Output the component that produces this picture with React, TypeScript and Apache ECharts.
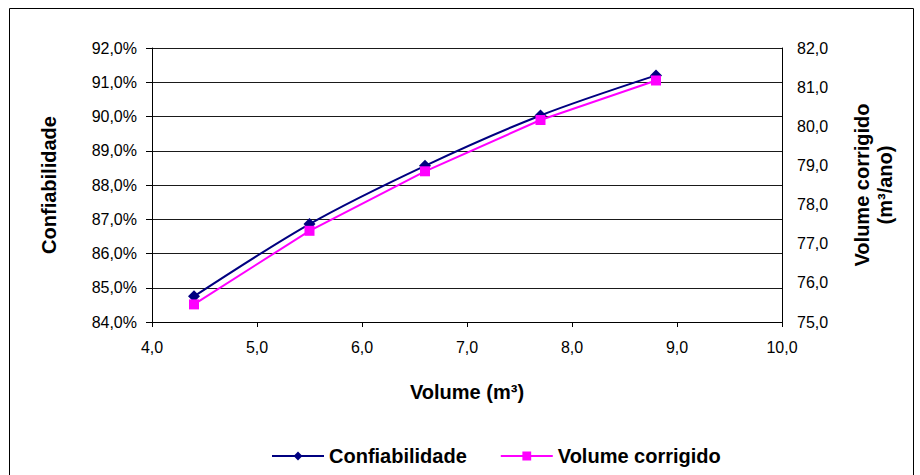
import React, { useEffect, useRef } from "react";
import * as echarts from "echarts";

const volumes = [4.4, 5.5, 6.6, 7.7, 8.8];
const confiabilidade = [84.75, 86.86, 88.56, 90.03, 91.2];
const volumeCorrigido = [75.45, 77.33, 78.85, 80.16, 81.17];

const FONT = 'Arial, "Liberation Sans", sans-serif';
const fmt1 = (v: number) => v.toFixed(1).replace(".", ",");
const TICK_SIZE = 16;
const TITLE_SIZE = 20;

export default function App() {
  const ref = useRef<HTMLDivElement>(null);
  useEffect(() => {
    document.body.style.margin = "0";
    const chart = echarts.init(ref.current!, null, { renderer: "svg" });
    chart.setOption({
      animation: false,
      backgroundColor: "#ffffff",
      textStyle: { fontFamily: FONT },
      graphic: [
        {
          type: "rect",
          shape: { x: 9.5, y: 8.5, width: 904, height: 480 },
          style: { fill: "none", stroke: "#000", lineWidth: 1 },
          silent: true,
        },
      ],
      grid: { left: 152, right: 138, top: 48, bottom: 153 },
      legend: {
        bottom: 4,
        left: 266,
        itemWidth: 52,
        itemHeight: 11,
        itemGap: 33,
        textStyle: { fontFamily: FONT, fontSize: TITLE_SIZE, fontWeight: "bold", color: "#000" },
        data: ["Confiabilidade", "Volume corrigido"],
      },
      xAxis: {
        type: "value",
        min: 4,
        max: 10,
        interval: 1,
        name: "Volume (m³)",
        nameLocation: "middle",
        nameGap: 60,
        nameTextStyle: { fontFamily: FONT, fontSize: TITLE_SIZE, fontWeight: "bold", color: "#000" },
        axisLine: { show: true, lineStyle: { color: "#000" } },
        axisTick: { show: true, inside: false, length: 5, lineStyle: { color: "#000" } },
        axisLabel: { formatter: (v: number) => fmt1(v), fontFamily: FONT, fontSize: TICK_SIZE, color: "#000", margin: 17 },
        splitLine: { show: false },
      },
      yAxis: [
        {
          type: "value",
          min: 84,
          max: 92,
          interval: 1,
          position: "left",
          name: "Confiabilidade",
          nameLocation: "middle",
          nameRotate: 90,
          nameGap: 93,
          nameTextStyle: { fontFamily: FONT, fontSize: TITLE_SIZE, fontWeight: "bold", color: "#000" },
          axisLine: { show: true, lineStyle: { color: "#000" } },
          axisTick: { show: true, inside: false, length: 6, lineStyle: { color: "#000" } },
          axisLabel: { formatter: (v: number) => fmt1(v) + "%", fontFamily: FONT, fontSize: TICK_SIZE, color: "#000", margin: 15 },
          splitLine: { show: true, lineStyle: { color: "#1a1a1a", width: 1 } },
        },
        {
          type: "value",
          min: 75,
          max: 82,
          interval: 1,
          position: "right",
          name: "Volume corrigido\n(m³/ano)",
          nameLocation: "middle",
          nameRotate: 90,
          nameGap: 68,
          nameTextStyle: { fontFamily: FONT, fontSize: TITLE_SIZE, fontWeight: "bold", color: "#000", lineHeight: 23 },
          axisLine: { show: true, lineStyle: { color: "#000" } },
          axisTick: { show: false },
          axisLabel: { formatter: (v: number) => fmt1(v), fontFamily: FONT, fontSize: TICK_SIZE, color: "#000", margin: 15 },
          splitLine: { show: false },
        },
      ],
      series: [
        {
          name: "Confiabilidade",
          type: "line",
          yAxisIndex: 0,
          smooth: 0.3,
          symbol: "diamond",
          symbolSize: 12,
          itemStyle: { color: "#000080" },
          lineStyle: { color: "#000080", width: 2 },
          data: volumes.map((x, i) => [x, confiabilidade[i]]),
          z: 3,
        },
        {
          name: "Volume corrigido",
          type: "line",
          yAxisIndex: 1,
          symbol: "rect",
          symbolSize: 10,
          itemStyle: { color: "#FF00FF" },
          lineStyle: { color: "#FF00FF", width: 2 },
          data: volumes.map((x, i) => [x, volumeCorrigido[i]]),
          z: 4,
        },
      ],
    });
    return () => chart.dispose();
  }, []);
  return <div ref={ref} style={{ position: "absolute", left: 0, top: 0, width: 920, height: 475 }} />;
}
